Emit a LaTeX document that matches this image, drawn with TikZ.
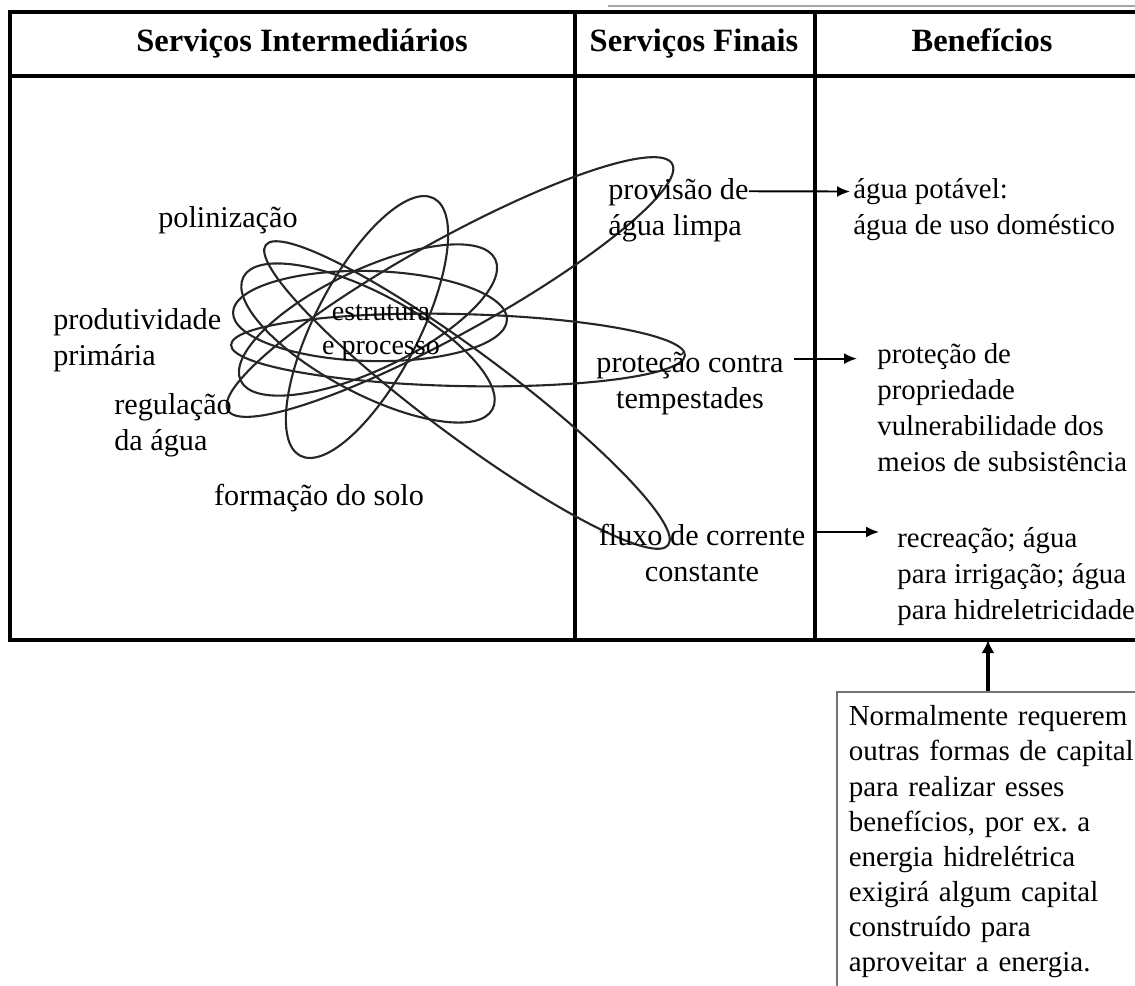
\documentclass[tikz,border=0pt]{standalone}
\usepackage{fontspec}
\setmainfont{Liberation Serif}
\frenchspacing
\usetikzlibrary{positioning, arrows.meta, calc}

\begin{document}
\begin{tikzpicture}[
    x=0.02cm, y=-0.02cm,
    font=\fontsize{17.2}{20.5}\selectfont,
    grid/.style={draw=black, line width=1.9pt},
    colhead/.style={inner sep=0pt, anchor=base, font=\fontsize{18.5}{21}\selectfont\bfseries},
    label/.style={inner sep=0pt, align=left, anchor=west},
    labelc/.style={inner sep=0pt, align=center},
    benefit/.style={label, font=\fontsize{16.4}{20.5}\selectfont},
    core/.style={inner sep=0pt, align=center, font=\fontsize{16}{19.8}\selectfont},
    orbit/.style={draw=black!85, line width=1.2pt},
    flow/.style={-{Latex[length=2.6mm, width=2.2mm]}, line width=1.1pt, draw=black},
    lift/.style={-{Latex[length=2.6mm, width=2.6mm]}, line width=2.2pt, draw=black},
    note/.style={
        rectangle, draw=black!55, line width=0.9pt,
        anchor=north west,
        text width=6.4cm, inner xsep=0.24cm, minimum height=6cm,
        align=left,
        font=\fontsize{16.5}{20}\selectfont
    }
]
\useasboundingbox (0,0) rectangle (1135,985);

% ============ Table frame ============
\draw[black!35, line width=1.2pt] (608,6) -- (1135,6);
\draw[grid, line join=miter] (1135,12) -- (10,12) -- (10,640) -- (1135,640);
\draw[grid] (10,76) -- (1135,76);
\draw[grid] (575,12) -- (575,640);
\draw[grid] (815,12) -- (815,640);
\coordinate (colB) at (815,640);
\coordinate (tbot) at (10,640);

% ============ Column headers ============
\node[colhead] (hInt) at (302,51) {Serviços Intermediários};
\node[colhead] (hFin) at (694,51) {Serviços Finais};
\node[colhead] (hBen) at (982,51) {Benefícios};

% ============ Tangled orbits ============
\draw[orbit, rotate around={62.6:(367,327)}] (367,327) ellipse [x radius=145, y radius=52];
\draw[orbit, rotate around={-28:(368,343)}] (368,343) ellipse [x radius=141, y radius=50];
\draw[orbit, rotate around={25.5:(368,320)}] (368,320) ellipse [x radius=141, y radius=50];
\draw[orbit, rotate around={-1.5:(370,316)}] (370,316) ellipse [x radius=137, y radius=45];
% long loops reaching the final services
\draw[orbit, rotate around={29:(450,287)}] (450,287) ellipse [x radius=254, y radius=47];
\draw[orbit, rotate around={-1.3:(458,350)}] (458,350) ellipse [x radius=227, y radius=36];
\draw[orbit, rotate around={-36.7:(467,395)}] (467,395) ellipse [x radius=251, y radius=42];

% ============ Intermediate services ============
\node[labelc] (polin) at (228,220) {polinização};
\node[label] (prod) at (53,340) {produtividade\\primária};
\node[label] (regul) at (114,425) {regulação\\da água};
\node[labelc] (solo) at (319,498) {formação do solo};
\node[core] (estr) at (381,332.5) {estrutura\\e processo};

% ============ Final services ============
\node[label] (prov) at (608,210) {provisão de\\água limpa};
\node[labelc] (prot) at (690,384) {proteção contra\\tempestades};
\node[labelc] (fluxo) at (702,553) {fluxo de corrente\\constante};

% ============ Benefits ============
\node[benefit] (potavel) at (853,210) {água potável:\\água de uso doméstico};
\node[benefit] (propr) at (877,408) {proteção de\\propriedade\\vulnerabilidade dos\\meios de subsistência};
\node[benefit] (recr) at (897,577) {recreação; água\\para irrigação; água\\para hidreletricidade};

% ============ Note box ============
\node[note] (note) at (836,691) {Normalmente requerem\\outras formas de capital\\para realizar esses\\benefícios, por ex. a\\energia hidrelétrica\\exigirá algum capital\\construído para\\aproveitar a energia.};

% ============ Arrows ============
\coordinate (propr1) at ([yshift=-8.6pt]propr.north west);
\coordinate (recr1) at ([yshift=-2.5pt]recr.north west);
\draw[flow] ([yshift=-7.6pt]prov.north east) -- ([yshift=-7.4pt, xshift=-0.06cm]potavel.north west);
\draw[flow] ($(prot.east |- propr1)+(10,0)$) -- ([xshift=-0.4cm]propr1);
\draw[flow] (colB |- recr1) -- ([xshift=-0.36cm]recr1);
\draw[lift] ([xshift=3.04cm]note.north west) -- ([xshift=3.04cm]note.north west |- tbot);

\end{tikzpicture}
\end{document}
